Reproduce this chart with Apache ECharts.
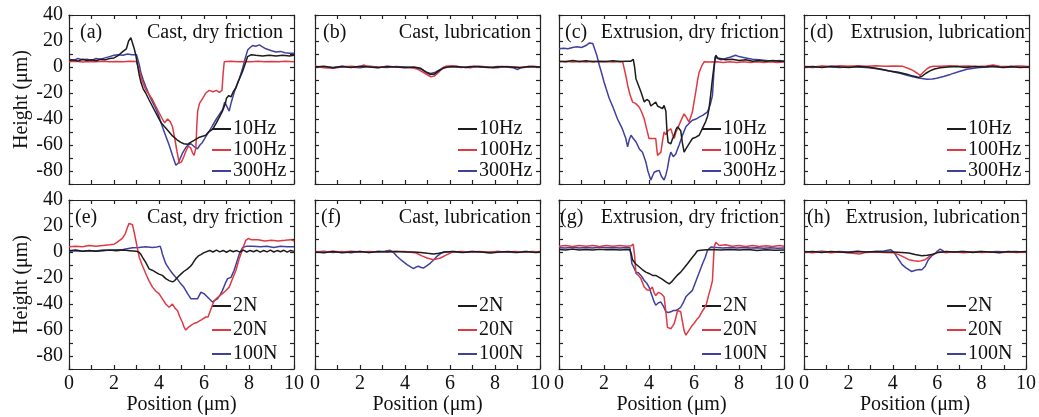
<!DOCTYPE html>
<html>
<head>
<meta charset="utf-8">
<script src="https://cdn.jsdelivr.net/npm/echarts@6/dist/echarts.min.js"></script>
<style>
html,body{margin:0;padding:0;background:#fff;}
#chart{width:1039px;height:417px;}
</style>
</head>
<body>
<div id="chart"></div>
<script>
// ---------- text / categories ----------
const panelLabels = ['(a)','(b)','(c)','(d)','(e)','(f)','(g)','(h)'];
const panelTitles = ['Cast, dry friction','Cast, lubrication','Extrusion, dry friction','Extrusion, lubrication',
                     'Cast, dry friction','Cast, lubrication','Extrusion, dry friction','Extrusion, lubrication'];
const freqNames = ['10Hz','100Hz','300Hz'];
const loadNames = ['2N','20N','100N'];
const xTickLabels = [0,2,4,6,8,10];
const yTickLabels = [-80,-60,-40,-20,0,20,40];
const xAxisTitle = 'Position (μm)';
const yAxisTitle = 'Height (μm)';

// ---------- series values [position, height] ----------
const a10Hz = [[0,5],[0.2,5.5],[0.4,4.5],[0.6,6],[0.8,5],[1.0,5.5],[1.2,4.8],[1.4,6],[1.6,5.5],[1.8,6.5],[2.0,7],[2.2,9],[2.4,12],[2.55,14],[2.65,20],[2.75,22.5],[2.82,21],[2.9,14],[2.97,9],[3.04,2],[3.12,-6],[3.2,-12],[3.3,-17],[3.41,-20],[3.55,-25],[3.7,-30],[3.85,-35],[4.0,-40],[4.1,-43],[4.3,-47],[4.45,-50],[4.6,-53],[4.8,-56],[4.97,-58],[5.1,-59],[5.27,-59.5],[5.4,-58],[5.56,-56.5],[5.8,-54],[6.08,-52.5],[6.2,-50],[6.38,-48],[6.55,-43],[6.7,-38],[6.82,-34],[6.95,-28],[7.0,-24],[7.1,-22],[7.2,-23],[7.3,-19],[7.42,-16],[7.55,-10],[7.7,-4],[7.82,2],[7.94,8],[8.1,9.5],[8.3,9],[8.6,8.5],[8.9,9],[9.2,8.5],[9.5,9],[9.8,8.5],[10,9]];
const a100Hz = [[0,4],[0.3,4.5],[0.6,3.8],[0.9,4.2],[1.2,4],[1.5,4.5],[1.8,4],[2.1,4.3],[2.4,4],[2.7,4.5],[3.0,4.2],[3.08,3],[3.15,-4],[3.26,-11],[3.4,-17],[3.55,-21],[3.71,-25],[3.85,-30],[4.0,-35],[4.15,-40],[4.25,-43],[4.38,-40],[4.5,-42],[4.6,-46],[4.7,-55],[4.8,-65],[4.9,-74],[5.0,-73],[5.1,-69],[5.19,-65],[5.3,-61],[5.4,-62],[5.49,-66],[5.56,-68],[5.64,-62],[5.68,-45],[5.72,-34],[5.8,-28],[5.95,-24],[6.08,-20],[6.23,-18],[6.4,-19],[6.55,-18],[6.68,-19.5],[6.8,-18],[6.85,-5],[6.9,4],[7.2,4.5],[7.5,4],[7.8,4.3],[8.1,4],[8.4,4.5],[8.7,4],[9.0,4.3],[9.3,4],[9.6,4.4],[10,4]];
const a300Hz = [[0,6],[0.2,5],[0.4,6.5],[0.6,5.5],[0.8,6],[1.0,5],[1.2,6.5],[1.4,6],[1.6,7],[1.8,8],[2.0,9],[2.2,9.5],[2.4,9],[2.6,10],[2.8,9.5],[3.0,9.5],[3.05,8],[3.12,2],[3.19,-4],[3.3,-10],[3.41,-15],[3.6,-23],[3.86,-32],[4.0,-38],[4.15,-46],[4.3,-53],[4.45,-60],[4.6,-68],[4.75,-75.5],[4.85,-74],[4.95,-70],[5.05,-66],[5.19,-62],[5.3,-60],[5.42,-59],[5.55,-61],[5.71,-63],[5.82,-60],[5.93,-58],[6.1,-53],[6.25,-49],[6.38,-45],[6.55,-40],[6.7,-36],[6.82,-33],[6.92,-27],[7.0,-28],[7.12,-34],[7.2,-28],[7.35,-19],[7.45,-14],[7.57,-9],[7.7,-2],[7.82,6],[7.94,13],[8.05,15],[8.16,16.5],[8.3,16],[8.46,17],[8.6,15.5],[8.75,14],[9.0,12.5],[9.2,11.5],[9.4,12],[9.6,11],[9.8,10.5],[10,10.5]];

const b10Hz = [[0,0],[0.4,0.5],[0.8,-0.5],[1.2,0.3],[1.6,-0.3],[2.0,0.5],[2.4,0],[2.8,-0.5],[3.2,0.3],[3.6,0],[4.0,-0.3],[4.4,0],[4.7,-1],[4.9,-3.5],[5.1,-5.5],[5.3,-5.5],[5.5,-3],[5.7,-1],[5.9,0],[6.3,0.3],[6.7,-0.3],[7.1,0.5],[7.5,0],[7.9,-0.5],[8.3,0.3],[8.7,0],[9.1,-0.5],[9.5,0.3],[10,0]];
const b100Hz = [[0,0.5],[0.4,-0.5],[0.8,-1],[1.2,0],[1.6,0.5],[2.0,0],[2.15,1.5],[2.4,0.3],[2.8,-0.3],[3.2,0.5],[3.6,0],[4.0,-0.5],[4.3,-0.5],[4.6,-2],[4.9,-5],[5.15,-7.5],[5.3,-7],[5.5,-4],[5.65,-1],[5.8,0.5],[6.1,1],[6.5,0],[6.9,-0.5],[7.3,0.5],[7.7,0],[8.1,-0.5],[8.5,0.3],[8.9,0],[9.3,-0.3],[9.7,0.5],[10,0]];
const b300Hz = [[0,0.3],[0.4,0],[0.8,-0.3],[1.2,0.5],[1.6,0],[2.0,-0.5],[2.4,0.5],[2.8,0],[3.2,-0.3],[3.6,0.3],[4.0,0],[4.4,-0.5],[4.7,-1.5],[4.95,-4],[5.15,-5],[5.35,-4],[5.55,-2],[5.75,0],[6.1,0.3],[6.5,-0.3],[6.9,0.3],[7.3,0],[7.7,-0.3],[8.1,0.3],[8.5,0],[8.8,-0.5],[9.0,-2],[9.15,-0.5],[9.5,0.3],[10,0]];

const c10Hz = [[0,4.5],[0.3,4],[0.6,5],[0.9,4.2],[1.2,4.8],[1.5,4],[1.8,4.5],[2.1,4.2],[2.4,4.8],[2.7,4.3],[3.0,4.5],[3.2,4.5],[3.3,6],[3.36,0],[3.42,-9],[3.53,-14],[3.64,-19],[3.79,-27],[3.9,-25],[4.0,-26],[4.08,-30],[4.16,-31],[4.3,-27],[4.38,-30],[4.45,-31],[4.6,-32],[4.67,-29.5],[4.75,-34],[4.8,-50],[4.85,-58],[4.97,-59],[5.05,-55],[5.12,-52.5],[5.2,-48],[5.27,-46],[5.35,-47],[5.41,-49],[5.48,-58],[5.56,-65.5],[5.64,-63],[5.71,-61.5],[5.82,-58],[5.93,-55],[6.08,-54],[6.23,-52.5],[6.38,-47],[6.52,-42],[6.6,-38],[6.67,-32],[6.75,-20],[6.82,-9],[6.9,2],[6.97,9],[7.05,7],[7.12,6.5],[7.4,5.5],[7.7,6],[8.0,5],[8.3,5.5],[8.6,4.5],[8.9,5],[9.2,4.5],[9.5,5],[9.8,4.5],[10,4.5]];
const c100Hz = [[0,4],[0.3,4.5],[0.6,3.8],[0.9,4.3],[1.2,3.8],[1.5,4.5],[1.8,4],[2.1,4.3],[2.4,3.8],[2.7,4.2],[2.83,4],[2.95,-5],[3.05,-14],[3.15,-21],[3.27,-27],[3.4,-28],[3.57,-31],[3.68,-35],[3.79,-40],[3.9,-48],[4.0,-55],[4.15,-55],[4.3,-55],[4.34,-62],[4.38,-68],[4.45,-67],[4.53,-65.5],[4.6,-57],[4.67,-50],[4.75,-52],[4.85,-49],[4.97,-47.5],[5.05,-52],[5.12,-55],[5.2,-50],[5.27,-47.5],[5.4,-42],[5.56,-36],[5.67,-39],[5.78,-42.4],[5.86,-38],[5.93,-34.5],[6.0,-27],[6.08,-19],[6.15,-11],[6.23,-4],[6.35,1],[6.45,4],[6.7,3.8],[7.0,4],[7.3,3.5],[7.6,4],[7.9,3.5],[8.2,4],[8.5,3.5],[8.8,4],[9.1,3.5],[9.4,4],[9.7,3.5],[10,3.8]];
const c300Hz = [[0,14],[0.2,14.5],[0.4,14],[0.6,15],[0.8,15.5],[1.0,15],[1.2,16.5],[1.35,18.5],[1.5,18],[1.57,17],[1.68,9],[1.79,1.5],[1.9,-5],[2.0,-11.5],[2.1,-17],[2.23,-24],[2.4,-31],[2.6,-40],[2.8,-47],[2.97,-55],[3.05,-61.5],[3.12,-56],[3.2,-52.5],[3.3,-55],[3.42,-57.5],[3.57,-63],[3.71,-65.5],[3.8,-70],[3.86,-73],[3.95,-80],[4.08,-87],[4.15,-84],[4.23,-81],[4.35,-80],[4.45,-79.5],[4.55,-84],[4.67,-87],[4.75,-83],[4.82,-78],[4.9,-70],[4.97,-65.5],[5.08,-69],[5.19,-67],[5.27,-63],[5.34,-60],[5.5,-52],[5.64,-46],[5.8,-43],[5.93,-41],[6.1,-40],[6.23,-38.5],[6.4,-37],[6.6,-34.5],[6.72,-29],[6.82,-22],[6.88,-5],[6.94,8],[7.05,6.5],[7.2,5.5],[7.4,6.5],[7.6,7.5],[7.85,9],[8.0,8],[8.3,7],[8.6,6],[8.9,5.5],[9.2,5],[9.5,4.5],[9.8,5],[10,4.5]];

const d10Hz = [[0,0],[0.4,0.3],[0.8,-0.3],[1.2,0.5],[1.6,0],[2.0,-0.3],[2.4,0.3],[2.8,0],[3.2,-1],[3.5,-2],[3.8,-3],[4.2,-4],[4.57,-5.5],[4.85,-7],[5.1,-8],[5.25,-7],[5.4,-5],[5.6,-3],[5.8,-1.5],[6.05,-0.5],[6.4,0],[6.8,0.3],[7.2,-0.3],[7.6,0.3],[8.0,0],[8.4,0.5],[8.8,-0.3],[9.2,0.3],[9.6,-0.3],[10,0]];
const d100Hz = [[0,0.5],[0.4,0],[0.8,0.8],[1.2,0.3],[1.6,1],[2.0,0.5],[2.4,1],[2.8,0.5],[3.2,1],[3.6,0.5],[4.0,0.8],[4.4,0.5],[4.7,-1.5],[4.87,-3],[5.05,-5],[5.16,-6.5],[5.3,-4],[5.46,-1.5],[5.6,0],[5.76,0.5],[6.1,0.5],[6.5,1],[6.9,0.5],[7.3,0.8],[7.7,0.3],[8.1,0.8],[8.4,1.5],[8.7,0.5],[9.1,0.3],[9.5,0.8],[10,0.3]];
const d300Hz = [[0,0],[0.4,-0.3],[0.8,0.3],[1.2,0],[1.6,-0.3],[2.0,0.3],[2.4,0],[2.9,-0.5],[3.3,-1.5],[3.8,-3],[4.3,-5],[4.7,-7],[5.1,-8.5],[5.46,-9.5],[5.7,-9.3],[5.9,-8.7],[6.2,-7.3],[6.5,-5.7],[6.9,-3.5],[7.24,-1.8],[7.7,-0.5],[8.1,0],[8.5,0.3],[8.9,-0.3],[9.3,0],[9.7,0.3],[10,0]];

const e2N = [[0,1],[0.3,1.5],[0.6,0.5],[0.9,1.2],[1.2,0.5],[1.5,1],[1.8,1.5],[2.1,1],[2.4,1.5],[2.7,1],[3.0,0.5],[3.1,0],[3.2,-2],[3.3,-5],[3.41,-8],[3.56,-13],[3.7,-14],[3.78,-15.5],[3.9,-16],[4.0,-17],[4.15,-18],[4.3,-20.5],[4.45,-22],[4.6,-23],[4.7,-22],[4.75,-20.5],[4.85,-19],[4.97,-17],[5.1,-15],[5.27,-13],[5.4,-11],[5.49,-9],[5.56,-7],[5.64,-5],[5.75,-3],[5.86,-2],[6.0,-0.5],[6.08,0.5],[6.25,1.2],[6.4,0],[6.55,1.4],[6.7,0.1],[6.85,1.2],[7.0,-0.2],[7.15,1.3],[7.3,0.2],[7.45,1.1],[7.6,-0.1],[7.75,1.4],[7.9,0],[8.05,1.2],[8.2,0.2],[8.35,1.3],[8.5,-0.1],[8.65,1.2],[8.8,0.1],[8.95,1.4],[9.1,0],[9.25,1.1],[9.4,0.2],[9.55,1.3],[9.7,-0.1],[9.85,1.2],[10,0.5]];
const e20N = [[0,4],[0.3,4.5],[0.6,4],[0.9,5],[1.2,4.5],[1.5,5],[1.8,5.5],[2.0,6],[2.1,7],[2.25,9],[2.37,10.5],[2.5,14],[2.6,19],[2.67,22],[2.75,23],[2.82,21],[2.9,15],[2.97,9],[3.05,2],[3.12,-4],[3.25,-10],[3.41,-16.5],[3.55,-22],[3.71,-27],[3.85,-30],[4.0,-32],[4.15,-36],[4.3,-40],[4.45,-42.5],[4.52,-41],[4.6,-40],[4.7,-43],[4.82,-45],[4.93,-50],[5.04,-54],[5.12,-58],[5.19,-60],[5.3,-58],[5.42,-56.5],[5.55,-55],[5.71,-54],[5.9,-52],[6.08,-50],[6.18,-50],[6.26,-48.5],[6.35,-42],[6.45,-37.5],[6.6,-35],[6.82,-32],[6.95,-30],[7.12,-27],[7.28,-20],[7.42,-14],[7.55,-6],[7.64,-1.5],[7.75,4],[7.86,9],[7.98,10.5],[8.08,9.5],[8.16,9],[8.4,9.5],[8.7,8.5],[9.0,9],[9.3,8.5],[9.6,9],[9.85,9.5],[10,8.5]];
const e100N = [[0,0.5],[0.3,1],[0.6,0.5],[0.9,1],[1.2,0.8],[1.5,1.5],[1.8,1.3],[2.1,1.8],[2.4,2],[2.82,3.3],[3.1,3.5],[3.41,4],[3.7,3.5],[3.9,3.8],[4.05,4.5],[4.1,2],[4.15,-1.5],[4.3,-9],[4.45,-13],[4.6,-16.5],[4.8,-20.5],[4.97,-24.5],[5.1,-27],[5.27,-32],[5.42,-36],[5.55,-36],[5.71,-36],[5.86,-31],[5.93,-30.5],[6.0,-32],[6.12,-34],[6.23,-36],[6.38,-38.5],[6.5,-37],[6.6,-36],[6.72,-33],[6.82,-29.5],[6.95,-24],[7.05,-20.5],[7.2,-19.5],[7.34,-14],[7.45,-8],[7.57,-1.5],[7.72,3.5],[7.9,4.5],[8.16,4.5],[8.5,4],[8.8,4.5],[9.1,3.5],[9.4,4.5],[9.7,4],[10,4]];

const f2N = [[0,0],[0.4,-0.5],[0.8,0.3],[1.2,-0.5],[1.6,0],[2.0,0.3],[2.4,-0.3],[2.8,0.3],[3.2,0],[3.6,0.3],[4.0,0],[4.4,0],[4.7,-0.3],[5.0,-1],[5.27,-1.5],[5.5,-1],[5.8,0],[6.2,0.3],[6.6,-0.3],[7.0,0.3],[7.4,0],[7.8,-0.8],[8.2,0],[8.6,0.3],[9.0,-0.3],[9.4,0.3],[9.8,-0.3],[10,0]];
const f20N = [[0,0.3],[0.4,0],[0.8,0.5],[1.2,0],[1.6,0.5],[2.0,0],[2.4,0.3],[2.8,0],[3.2,0.3],[3.6,0.3],[4.0,0.3],[4.5,-0.8],[4.75,-3],[4.98,-4.6],[5.27,-5.9],[5.57,-4.6],[5.87,-2],[6.1,0],[6.5,0.3],[6.9,0],[7.3,0.3],[7.7,0],[8.1,0.3],[8.5,0],[8.9,0.3],[9.3,0],[9.7,0.3],[10,0]];
const f100N = [[0,0],[0.4,0.5],[0.8,-0.3],[1.2,0.3],[1.6,-0.5],[2.0,0.3],[2.4,-0.3],[2.8,0.3],[3.1,0.5],[3.34,1.3],[3.5,-0.5],[3.64,-3.3],[3.85,-6.5],[4.09,-9.7],[4.25,-11.5],[4.38,-12.8],[4.5,-11.5],[4.6,-11],[4.72,-12],[4.83,-12.3],[4.98,-10.5],[5.13,-8.5],[5.28,-6],[5.42,-3.3],[5.58,-1.2],[5.72,0],[6.1,0.3],[6.5,-0.3],[6.9,0.3],[7.3,0],[7.7,-0.3],[8.1,0.3],[8.5,0],[8.9,-0.3],[9.3,0.3],[9.7,0],[10,0.3]];

const g2N = [[0,2],[0.3,1.5],[0.6,2.3],[0.9,1.5],[1.2,2],[1.5,1.5],[1.8,2.2],[2.1,1.8],[2.4,2],[2.7,1.5],[3.0,2],[3.15,1.8],[3.22,-2],[3.27,-6],[3.4,-9],[3.57,-11.5],[3.7,-13.5],[3.86,-15.5],[4.0,-16.5],[4.16,-18],[4.3,-18],[4.45,-19.5],[4.6,-21],[4.75,-23],[4.9,-24.5],[5.0,-23],[5.12,-20.5],[5.25,-18],[5.41,-15.5],[5.55,-12.5],[5.71,-9],[5.82,-6.5],[5.93,-4],[6.05,-1.5],[6.15,1],[6.4,1.5],[6.8,2],[7.2,1.5],[7.6,2],[8.0,1.5],[8.4,2],[8.8,1.2],[9.2,1.8],[9.6,1.3],[10,1.5]];
const g20N = [[0,4.5],[0.3,5],[0.6,4.3],[0.9,5],[1.2,4.5],[1.5,5],[1.8,4.3],[2.1,5],[2.4,4.5],[2.7,5],[3.0,4.5],[3.2,4.8],[3.3,6],[3.36,-3],[3.42,-16.5],[3.53,-18],[3.64,-20.5],[3.72,-24],[3.79,-27],[3.9,-29],[4.0,-29.5],[4.08,-28],[4.15,-27],[4.22,-31],[4.3,-33.5],[4.42,-31],[4.53,-32],[4.6,-33],[4.67,-34.5],[4.75,-46],[4.82,-58],[4.9,-59],[4.97,-59],[5.05,-57],[5.12,-55],[5.2,-50],[5.27,-45],[5.34,-45],[5.41,-46],[5.48,-53],[5.56,-60.5],[5.64,-64],[5.71,-62],[5.78,-60.5],[5.9,-57],[6.0,-55],[6.12,-52],[6.23,-50],[6.35,-46],[6.45,-43.5],[6.55,-40],[6.67,-32],[6.75,-27],[6.82,-22],[6.86,-8],[6.9,4],[6.97,7.5],[7.05,6],[7.12,5],[7.4,5.5],[7.7,4.5],[8.0,5],[8.3,4.3],[8.6,5],[8.9,4.3],[9.2,4.8],[9.5,4.3],[9.8,5],[10,4.5]];
const g100N = [[0,3.3],[0.3,3],[0.6,3.8],[0.9,3],[1.2,3.5],[1.5,3],[1.8,3.8],[2.1,3.3],[2.4,3.5],[2.7,3],[3.0,3.5],[3.15,3.3],[3.2,-3],[3.24,-9],[3.33,-12],[3.42,-15.5],[3.53,-16],[3.64,-18],[3.72,-20],[3.79,-22],[3.9,-24],[4.0,-27],[4.08,-31],[4.15,-34.5],[4.22,-38],[4.3,-41],[4.42,-39],[4.53,-38.5],[4.65,-42],[4.75,-46],[4.86,-46.5],[4.97,-46],[5.08,-45],[5.19,-45],[5.3,-44],[5.41,-42.5],[5.52,-39],[5.64,-34.5],[5.78,-32],[5.93,-29.5],[6.05,-24],[6.15,-19.5],[6.27,-14],[6.38,-9],[6.5,-4],[6.6,1.3],[6.75,3.8],[7.0,3.5],[7.3,3],[7.6,3.5],[7.9,3],[8.2,3.5],[8.5,3],[8.8,3.3],[9.1,2.8],[9.4,3.3],[9.7,2.8],[10,3]];

const h2N = [[0,0],[0.4,0.3],[0.8,-0.3],[1.2,0.3],[1.6,0],[2.0,-0.3],[2.4,0.3],[2.8,0],[3.2,0.3],[3.6,0],[4.0,0],[4.4,-0.3],[4.72,-0.8],[5.0,-2],[5.3,-2.8],[5.55,-2.5],[5.76,-2],[6.05,-0.3],[6.4,0.3],[6.8,0],[7.2,0.3],[7.6,-0.3],[8.0,0.3],[8.4,0],[8.8,-0.3],[9.2,0.3],[9.6,0],[10,0.3]];
const h20N = [[0,0],[0.4,-0.5],[0.8,0.3],[1.2,-0.5],[1.6,0],[2.0,-0.5],[2.5,-1.5],[2.8,-0.3],[3.2,0],[3.6,-0.3],[4.0,-0.5],[4.27,-2],[4.5,-4],[4.72,-5.9],[4.95,-6.8],[5.16,-7.2],[5.46,-5.9],[5.76,-2],[6.05,0],[6.4,-0.3],[6.8,0],[7.2,-0.5],[7.6,0],[8.0,-0.3],[8.4,0],[8.8,-0.5],[9.2,0],[9.6,-0.3],[10,0]];
const h100N = [[0,0.3],[0.4,0],[0.8,0.5],[1.2,0],[1.6,0.3],[2.0,0],[2.4,0.5],[2.8,0],[3.2,0.3],[3.6,0.8],[3.9,1.8],[4.0,0.5],[4.12,-2],[4.27,-6],[4.42,-9.7],[4.58,-12],[4.72,-13.6],[4.85,-15],[4.94,-15.6],[5.02,-14],[5.09,-13],[5.2,-13.5],[5.31,-13.6],[5.46,-11],[5.6,-5.9],[5.75,-3],[5.9,-1.3],[6.0,0.5],[6.13,2.3],[6.25,1],[6.35,-0.3],[6.7,0],[7.1,0.3],[7.5,0],[7.9,0.3],[8.3,0],[8.7,0.3],[9.1,0],[9.5,0.3],[10,0]];

// ---------- assembly ----------
const panelData = [
  [a10Hz,a100Hz,a300Hz],[b10Hz,b100Hz,b300Hz],[c10Hz,c100Hz,c300Hz],[d10Hz,d100Hz,d300Hz],
  [e2N,e20N,e100N],[f2N,f20N,f100N],[g2N,g20N,g100N],[h2N,h20N,h100N]
];
const colors = ['#1c1c1c','#df3a44','#40409f'];
const FONT = '"Liberation Serif","Times New Roman",serif';
const gridLefts = [69, 315, 559, 804];
const gridTops = [15, 200];
const gridW = 225, gridH = 169;
// label offsets from left edge, title offsets from right edge
const labelDx = [11, 8, 6, 6, 6, 6, 1, 3];
const titleDx = [11, 9, 5, 4, 11, 9, 5, 9];

const grids = [], xAxes = [], yAxes = [], series = [], legends = [], graphics = [];
const axisLineStyle = {color:'#222', width:1.2};

for (let i = 0; i < 8; i++) {
  const row = i < 4 ? 0 : 1, col = i % 4;
  const L = gridLefts[col], T = gridTops[row];
  grids.push({left:L, top:T, width:gridW, height:gridH, containLabel:false});
  const xBase = {
    gridIndex:i, type:'value', min:0, max:10, interval:1,
    axisLine:{show:true, onZero:false, lineStyle:axisLineStyle},
    axisTick:{show:true, inside:true, length:4, lineStyle:axisLineStyle},
    splitLine:{show:false}
  };
  xAxes.push(Object.assign({}, xBase, {
    position:'bottom',
    axisLabel:{show:row===1, margin:5, fontFamily:FONT, fontSize:20, color:'#111',
      showMinLabel:true, showMaxLabel:true,
      formatter:v => xTickLabels.indexOf(v) >= 0 ? String(v) : ''},
    name: row===1 ? xAxisTitle : '', nameLocation:'middle', nameGap:25,
    nameTextStyle:{fontFamily:FONT, fontSize:20, color:'#111'}
  }));
  xAxes.push(Object.assign({}, xBase, {position:'top', axisLabel:{show:false}}));
  const yBase = {
    gridIndex:i, type:'value', min:-90, max:40, interval:10,
    axisLine:{show:true, onZero:false, lineStyle:axisLineStyle},
    axisTick:{show:true, inside:true, length:4, lineStyle:axisLineStyle},
    splitLine:{show:false}
  };
  yAxes.push(Object.assign({}, yBase, {
    position:'left',
    axisLabel:{show:col===0, margin:6, fontFamily:FONT, fontSize:20, color:'#111',
      formatter:v => yTickLabels.indexOf(v) >= 0 ? String(v) : ''},
    name: col===0 ? yAxisTitle : '', nameLocation:'middle', nameGap:37, nameRotate:90,
    nameTextStyle:{fontFamily:FONT, fontSize:20, color:'#111'}
  }));
  yAxes.push(Object.assign({}, yBase, {position:'right', axisLabel:{show:false}}));

  const names = row === 0 ? freqNames : loadNames;
  names.forEach((nm, k) => {
    series.push({
      name:nm, type:'line', xAxisIndex:2*i, yAxisIndex:2*i,
      data:panelData[i][k], showSymbol:false, symbol:'none',
      lineStyle:{color:colors[k], width:1.5}, itemStyle:{color:colors[k]},
      animation:false, z:3-k+2
    });
  });
  legends.push({
    data:names, orient:'vertical', left:L+143, top: row===0 ? T+104 : T+96,
    padding:0, itemGap: row===0 ? 1 : 4, itemWidth:19, itemHeight:2, icon:'rect',
    selectedMode:false,
    textStyle:{fontFamily:FONT, fontSize:20, color:'#111', padding:[0,0,0,-3]}
  });
  graphics.push({type:'text', x:L+labelDx[i], y:T+18, z:10,
    style:{text:panelLabels[i], font:'20px '+FONT, fill:'#111', textAlign:'left', textVerticalAlign:'middle'}});
  graphics.push({type:'text', x:L+gridW-titleDx[i], y:T+18, z:10,
    style:{text:panelTitles[i], font:'20px '+FONT, fill:'#111', textAlign:'right', textVerticalAlign:'middle'}});
}

const chart = echarts.init(document.getElementById('chart'), null, {renderer:'canvas'});
chart.setOption({
  backgroundColor:'#fff',
  animation:false,
  grid:grids, xAxis:xAxes, yAxis:yAxes, series:series, legend:legends, graphic:graphics
});
</script>
</body>
</html>
